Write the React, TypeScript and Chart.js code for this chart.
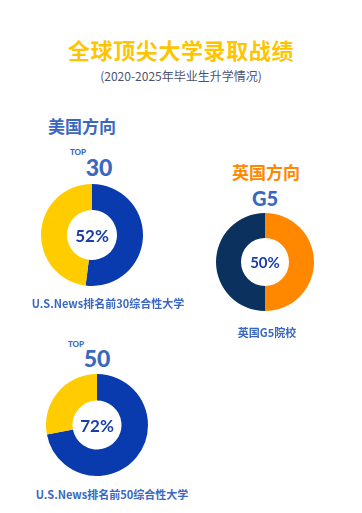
import React, { useEffect, useRef } from "react";
import { Chart, registerables } from "chart.js";

Chart.register(...registerables);

const usTop30Labels = ["录取", "其他"];
const usTop30Values = [52, 48];
const usTop50Labels = ["录取", "其他"];
const usTop50Values = [72, 28];
const ukG5Labels = ["录取", "其他"];
const ukG5Values = [50, 50];

const CJK = '"Noto Sans CJK SC", "Noto Sans", sans-serif';
const LATIN = 'Lato, "Noto Sans CJK SC", sans-serif';

function Donut(props: { labels: string[]; values: number[]; colors: string[]; cx: number; cy: number; r: number; cutout: string }) {
  const ref = useRef<HTMLCanvasElement | null>(null);
  useEffect(() => {
    if (!ref.current) return;
    const chart = new Chart(ref.current, {
      type: "doughnut",
      data: {
        labels: props.labels,
        datasets: [
          {
            data: props.values,
            backgroundColor: props.colors,
            borderWidth: 0,
          },
        ],
      },
      options: {
        responsive: false,
        animation: false,
        cutout: props.cutout,
        layout: { padding: 0 },
        plugins: { legend: { display: false }, tooltip: { enabled: false } },
      },
    });
    return () => chart.destroy();
  }, []);
  const d = props.r * 2;
  return (
    <canvas
      ref={ref}
      width={d}
      height={d}
      style={{ position: "absolute", left: props.cx - props.r, top: props.cy - props.r, width: d, height: d }}
    />
  );
}

function Label(props: { x: number; y: number; text: string; size: number; color: string; weight?: number; font?: string; spacing?: number }) {
  return (
    <div
      style={{
        position: "absolute",
        left: props.x,
        top: props.y,
        transform: "translate(-50%, -50%)",
        fontSize: props.size,
        lineHeight: 1,
        color: props.color,
        fontWeight: props.weight ?? 700,
        fontFamily: props.font ?? CJK,
        whiteSpace: "nowrap",
        letterSpacing: props.spacing ?? 0,
      }}
    >
      {props.text}
    </div>
  );
}

export default function App() {
  const blue = "#0A3BAE";
  const yellow = "#FFCC00";
  const navy = "#0B325F";
  const orange = "#FF8800";
  const head = "#3A68C0";
  const pct = "#1A3EA6";
  return (
    <div style={{ position: "fixed", left: 0, top: 0, width: 362, height: 513, background: "#fff", overflow: "hidden" }}>
      <Label x={181} y={49} text="全球顶尖大学录取战绩" size={22} color="#FFC400" spacing={0.6} />
      <Label x={181} y={76} text="(2020-2025年毕业生升学情况)" size={12} color="#4A5472" weight={400} />

      <Label x={82} y={125} text="美国方向" size={17} color={head} />
      <Label x={78} y={152} text="TOP" size={8} color={head} font={LATIN} weight={900} />
      <Label x={99} y={167} text="30" size={23} color={head} font={LATIN} weight={900} />
      <Donut labels={usTop30Labels} values={usTop30Values} colors={[blue, yellow]} cx={92} cy={235} r={51} cutout="49%" />
      <Label x={92} y={235} text="52%" size={17} color={pct} font={LATIN} weight={700} />
      <Label x={108} y={303} text="U.S.News排名前30综合性大学" size={11} color={head} />

      <Label x={266} y={171} text="英国方向" size={17} color={orange} />
      <Label x={265} y={198} text="G5" size={20} color={head} font={LATIN} weight={900} />
      <Donut labels={ukG5Labels} values={ukG5Values} colors={[orange, navy]} cx={265} cy={262} r={49} cutout="49%" />
      <Label x={265} y={262} text="50%" size={15} color={pct} font={LATIN} weight={700} />
      <Label x={267} y={332} text="英国G5院校" size={11} color={head} />

      <Label x={76} y={344} text="TOP" size={8} color={head} font={LATIN} weight={900} />
      <Label x={97} y={358} text="50" size={23} color={head} font={LATIN} weight={900} />
      <Donut labels={usTop50Labels} values={usTop50Values} colors={[blue, yellow]} cx={97} cy={425} r={51} cutout="48%" />
      <Label x={97} y={425} text="72%" size={17} color={pct} font={LATIN} weight={700} />
      <Label x={112} y={494} text="U.S.News排名前50综合性大学" size={11} color={head} />
    </div>
  );
}
